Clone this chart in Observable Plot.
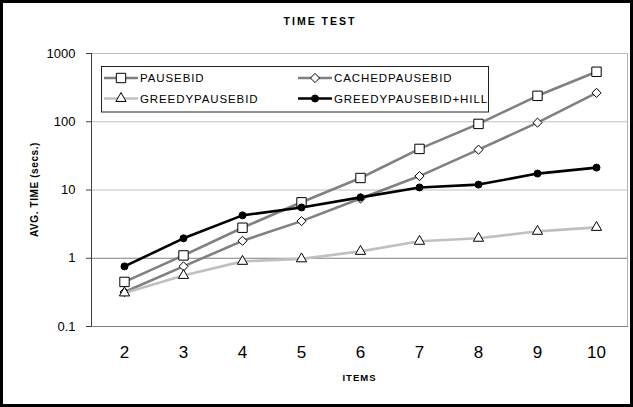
<!DOCTYPE html>
<html><head><meta charset="utf-8">
<script src="https://cdn.jsdelivr.net/npm/d3@7"></script>
<script src="https://cdn.jsdelivr.net/npm/@observablehq/plot@0.6"></script>
<style>
body{margin:0;background:#fff;}
#wrap{position:relative;width:633px;height:407px;overflow:hidden;background:#fff}
#border{position:absolute;left:0;top:0;width:633px;height:407px;box-sizing:border-box;border:3px solid #000;pointer-events:none}
</style></head><body><div id="wrap"><div id="border"></div></div>
<script>
// ---- data ----
const items = [2, 3, 4, 5, 6, 7, 8, 9, 10];
const seriesNames = ["PAUSEBID", "CACHEDPAUSEBID", "GREEDYPAUSEBID", "GREEDYPAUSEBID+HILL"];
const pausebid = [0.45, 1.1, 2.8, 6.6, 15, 40, 93, 240, 540];
const cachedPausebid = [0.32, 0.76, 1.8, 3.5, 7.5, 16, 39, 97, 265];
const greedyPausebid = [0.31, 0.56, 0.9, 0.98, 1.26, 1.77, 1.96, 2.48, 2.83];
const greedyHill = [0.76, 1.96, 4.25, 5.55, 7.8, 10.9, 12, 17.4, 21.3];
const yTicks = [0.1, 1, 10, 100, 1000];
const titleText = "TIME TEST";
const xLabelText = "ITEMS";
const yLabelText = "AVG. TIME (secs.)";

const seriesValues = [pausebid, cachedPausebid, greedyPausebid, greedyHill];
const styles = [
  {stroke: "#808080", symbol: "square", r: 5.3, fill: "white"},
  {stroke: "#808080", symbol: "diamond2", r: 4.1, fill: "white"},
  {stroke: "#c0c0c0", symbol: "triangle", r: 3.8, fill: "white"},
  {stroke: "#000000", symbol: "circle", r: 3.5, fill: "black"}
];
const rows = seriesNames.map((name, i) => items.map((x, j) => ({series: name, x, y: seriesValues[i][j]})));

const FONT = "'Liberation Sans', Arial, sans-serif";

const seriesMarks = rows.flatMap((data, i) => [
  Plot.line(data, {x: "x", y: "y", stroke: styles[i].stroke, strokeWidth: 2.6}),
  Plot.dot(data, {x: "x", y: "y", symbol: () => styles[i].symbol, r: styles[i].r, fill: styles[i].fill, stroke: "#000", strokeWidth: 1})
]);

function decorations(index, scales, values, dims) {
  const g = d3.create("svg:g").attr("text-anchor", "start");
  const yTop = scales.y(1000), yBot = scales.y(0.1);
  const xl = dims.marginLeft, xr = dims.width - dims.marginRight;
  // right border
  g.append("line").attr("x1", xr - 0.5).attr("x2", xr - 0.5).attr("y1", yTop).attr("y2", yBot).attr("stroke", "#b0b0b0");
  // left axis line
  g.append("line").attr("x1", xl + 0.5).attr("x2", xl + 0.5).attr("y1", yTop).attr("y2", yBot + 0.5).attr("stroke", "#404040");
  // title
  g.append("text").attr("x", 320).attr("y", 25).attr("text-anchor", "middle")
    .attr("font-size", 10.5).attr("font-weight", "bold").attr("letter-spacing", 2).attr("font-family", FONT).text(titleText);
  // x label
  g.append("text").attr("x", (xl + xr) / 2).attr("y", 381).attr("text-anchor", "middle")
    .attr("font-size", 9.5).attr("font-weight", "bold").attr("letter-spacing", 1).attr("font-family", FONT).text(xLabelText);
  // y label
  g.append("text").attr("transform", `translate(38,${(yTop + yBot) / 2}) rotate(-90)`).attr("text-anchor", "middle")
    .attr("font-size", 10).attr("font-weight", "bold").attr("letter-spacing", 0.6).attr("font-family", FONT).text(yLabelText);
  // legend
  const lg = g.append("g");
  lg.append("rect").attr("x", 101.5).attr("y", 66.5).attr("width", 387).attr("height", 45.5)
    .attr("fill", "white").attr("stroke", "#222").attr("stroke-width", 1);
  const cols = [104, 298], rowsY = [78, 98.5];
  const symMap = {square: d3.symbolSquare, diamond2: d3.symbolDiamond2, triangle: d3.symbolTriangle, circle: d3.symbolCircle};
  seriesNames.forEach((name, i) => {
    const cx = cols[i % 2], cy = rowsY[Math.floor(i / 2)];
    const s = styles[i];
    lg.append("line").attr("x1", cx).attr("x2", cx + 34).attr("y1", cy).attr("y2", cy)
      .attr("stroke", s.stroke).attr("stroke-width", 2.6);
    lg.append("path").attr("transform", `translate(${cx + 17},${cy})`)
      .attr("d", d3.symbol(symMap[s.symbol], Math.PI * s.r * s.r)())
      .attr("fill", s.fill).attr("stroke", "#000").attr("stroke-width", 1);
    lg.append("text").attr("x", cx + 36).attr("y", cy).attr("dy", "0.36em").attr("text-anchor", "start")
      .attr("font-size", 11.5).attr("letter-spacing", 0.9).attr("font-family", FONT).text(name);
  });
  return g.node();
}

const chart = Plot.plot({
  width: 633,
  height: 407,
  marginLeft: 91,
  marginRight: 5,
  marginTop: 53,
  marginBottom: 81,
  style: {fontFamily: FONT, background: "transparent", overflow: "visible"},
  x: {type: "point", domain: items, padding: 0.5, label: null},
  y: {type: "log", domain: [0.1, 1000], label: null},
  marks: [
    Plot.ruleY([10, 100, 1000], {stroke: "#c0c0c0"}),
    Plot.ruleY([0.1], {stroke: "#808080"}),
    Plot.ruleY([1], {stroke: "#808080"}),
    Plot.axisY({ticks: yTicks, tickFormat: d => String(d), tickSize: 5, tickPadding: 11, fontSize: 13, stroke: "#404040", fill: "#000", label: null}),
    Plot.axisX({tickSize: 0, tickPadding: 19, fontSize: 17, fill: "#000", label: null}),
    ...seriesMarks,
    decorations
  ]
});
document.getElementById("wrap").insertBefore(chart, document.getElementById("border"));
</script>
</body></html>
